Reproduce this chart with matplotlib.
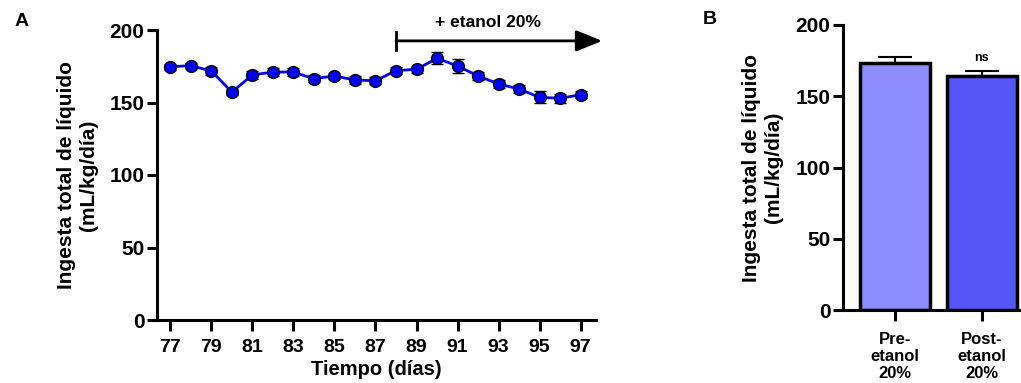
import numpy as np
import matplotlib
matplotlib.use("Agg")
import matplotlib.pyplot as plt

plt.rcParams['font.family'] = ['Liberation Sans', 'DejaVu Sans']
plt.rcParams['font.weight'] = 'bold'

# Panel A: daily total fluid intake
days = np.arange(77, 98)
intake = [174.7, 175.4, 171.7, 157.2, 169.0, 171.0, 171.0, 166.4, 168.3, 165.5, 165.0,
          172.0, 172.9, 180.5, 175.2, 168.3, 162.8, 159.3, 153.6, 152.9, 155.4]
intake_err = [2.0, 2.0, 2.5, 2.0, 2.5, 2.5, 2.5, 2.5, 2.0, 2.5, 2.5,
              2.5, 2.5, 4.0, 5.0, 3.0, 2.5, 3.0, 4.0, 3.0, 2.5]
day_ticks = np.arange(77, 98, 2)

# Panel B: mean intake pre / post ethanol
groups = ["Pre-\netanol\n20%", "Post-\netanol\n20%"]
means = [173.5, 164.5]
sems = [4.0, 3.5]
bar_colors = ['#8c8cff', '#5656f7']

fig = plt.figure(figsize=(10.21, 3.83), dpi=100)
W, H = 1021, 383

def add_axes_px(x0, x1, y_top, y_bot):
    return fig.add_axes([x0 / W, 1 - y_bot / H, (x1 - x0) / W, (y_bot - y_top) / H])

ylab = "Ingesta total de líquido\n(mL/kg/día)"
narrow = ['Liberation Sans Narrow', 'Liberation Sans', 'DejaVu Sans']

# ---- Panel A ----
ax = add_axes_px(157, 596, 30, 320)
ax.errorbar(days, intake, yerr=intake_err, color='#0000ff', lw=2,
            marker='o', ms=8.5, mfc='#0000ff', mec='black', mew=1,
            ecolor='black', elinewidth=1.5, capsize=4, capthick=1.5, zorder=3)
ax.set_xlim(76.35, 97.75)
ax.set_ylim(0, 200)
ax.set_yticks([0, 50, 100, 150, 200])
ax.set_xticks(day_ticks)
for lab in ax.get_xticklabels():
    lab.set_family(narrow)
    lab.set_fontsize(14)
ax.set_xlabel("Tiempo (días)", fontsize=14.5, fontweight='bold', labelpad=3)
ax.set_ylabel(ylab, fontsize=15, fontweight='bold', linespacing=1.2)
ax.yaxis.set_label_coords(-0.134, 0.5)
for s in ['top', 'right']:
    ax.spines[s].set_visible(False)
for s in ['left', 'bottom']:
    ax.spines[s].set_linewidth(2.2)
ax.tick_params(axis='y', width=2.2, length=7, labelsize=15, pad=2)
ax.tick_params(axis='x', width=2.2, length=8, labelsize=14, pad=5.5)

# arrow for ethanol period
ax.annotate("", xy=(98.05, 192.5), xytext=(88, 192.5), annotation_clip=False,
            arrowprops=dict(arrowstyle='-|>,head_length=1.6,head_width=0.65',
                            color='black', lw=2, shrinkA=0, shrinkB=0))
ax.plot([88, 88], [186.5, 198.5], color='black', lw=2, clip_on=False)
ax.text(92.5, 205, "+ etanol 20%", ha='center', va='center', fontsize=12.5,
        fontweight='bold', clip_on=False)

# ---- Panel B ----
bx = add_axes_px(843, 1021, 25, 310)
xpos = np.arange(len(groups))
bx.bar(xpos, means, width=0.8, color=bar_colors, edgecolor='black', linewidth=2.5, zorder=2)
bx.errorbar(xpos, means, yerr=[[0, 0], sems], fmt='none', ecolor='black',
            elinewidth=1.5, capsize=12, capthick=1.5, zorder=1)
bx.set_xlim(-0.6, 1.45)
bx.set_ylim(0, 200)
bx.set_yticks([0, 50, 100, 150, 200])
bx.set_xticks(xpos)
bx.set_xticklabels(groups, linespacing=1.2)
bx.set_ylabel(ylab, fontsize=15, fontweight='bold', linespacing=1.2)
bx.yaxis.set_label_coords(-0.337, 0.5)
for s in ['top', 'right']:
    bx.spines[s].set_visible(False)
for s in ['left', 'bottom']:
    bx.spines[s].set_linewidth(2.2)
bx.tick_params(axis='y', width=2.2, length=7, labelsize=15, pad=2)
bx.tick_params(axis='x', width=2.2, length=8, labelsize=12, pad=7.5)
bx.text(1, 177, "ns", ha='center', va='center', fontsize=9, fontweight='bold')

fig.text(15 / W, 1 - 21 / H, "A", fontsize=14, fontweight='bold', ha='left', va='center')
fig.text(703 / W, 1 - 20 / H, "B", fontsize=14, fontweight='bold', ha='left', va='center')

fig.savefig("out.png", dpi=100)
